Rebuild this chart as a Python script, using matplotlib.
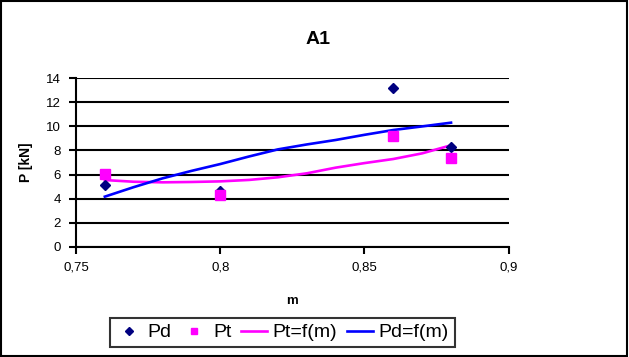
import numpy as np
import matplotlib.pyplot as plt
from matplotlib.lines import Line2D
from matplotlib.patches import Rectangle

plt.rcParams['font.family'] = ['Liberation Sans', 'DejaVu Sans']

# measured points
m_pts = [0.76, 0.80, 0.86, 0.88]
pd_vals = [5.10, 4.63, 13.17, 8.26]
pt_vals = [6.04, 4.30, 9.18, 7.40]

# trend curves
m_curve = [0.76, 0.77, 0.78, 0.79, 0.80, 0.81, 0.82, 0.83, 0.84, 0.85, 0.86, 0.87, 0.88]
pd_curve = [4.16, 4.95, 5.68, 6.30, 6.87, 7.50, 8.09, 8.50, 8.87, 9.30, 9.70, 10.00, 10.31]
pt_curve = [5.54, 5.40, 5.35, 5.38, 5.43, 5.55, 5.77, 6.10, 6.57, 6.95, 7.29, 7.76, 8.43]

xticks = [0.75, 0.80, 0.85, 0.90]
xtick_labels = ['0,75', '0,8', '0,85', '0,9']
yticks = [0, 2, 4, 6, 8, 10, 12, 14]

fig = plt.figure(figsize=(6.29, 3.57), dpi=100)
ax = fig.add_axes([0.1208, 0.309, 0.688, 0.4717])

ax.plot(m_curve, pt_curve, color='#FF00FF', lw=1.9, zorder=3)
ax.plot(m_curve, pd_curve, color='#0000FF', lw=1.9, zorder=3)
ax.plot(m_pts, pd_vals, 'D', color='#000080', ms=5, ls='none', zorder=4)
ax.plot(m_pts, pt_vals, 's', color='#FF00FF', ms=7, ls='none', zorder=4)

ax.set_xlim(0.75, 0.90)
ax.set_ylim(0, 14)
ax.set_xticks(xticks)
ax.set_xticklabels(xtick_labels)
ax.set_yticks(yticks)
ax.yaxis.grid(True, color='black', lw=1.5)
ax.set_axisbelow(True)
for s in ['top', 'right']:
    ax.spines[s].set_visible(False)
for s in ['left', 'bottom']:
    ax.spines[s].set_linewidth(1.5)
ax.tick_params(axis='both', direction='out', length=5, width=1.5, labelsize=9.5, pad=6)

ax.set_xlabel('m', fontsize=9.5, fontweight='bold', labelpad=15)
ax.set_ylabel('P [kN]', fontsize=10, fontweight='bold', labelpad=9)
fig.text(0.505, 0.89, 'A1', ha='center', va='center', fontsize=14, fontweight='bold')

handles = [
    Line2D([], [], marker='D', color='#000080', ms=4, ls='none'),
    Line2D([], [], marker='s', color='#FF00FF', ms=5, ls='none'),
    Line2D([], [], color='#FF00FF', lw=1.9),
    Line2D([], [], color='#0000FF', lw=1.9),
]
labels = ['Pd', 'Pt', 'Pt=f(m)', 'Pd=f(m)']
leg = fig.legend(handles, labels, loc='center', bbox_to_anchor=(0.449, 0.0686), ncol=4,
                 fontsize=14, frameon=True, fancybox=False, edgecolor='black',
                 handlelength=1.33, handletextpad=0.3, columnspacing=0.5,
                 borderpad=0.3, borderaxespad=0)
leg.get_frame().set_linewidth(1.5)

fig.patches.append(Rectangle((0.002, 0.003), 0.995, 0.994, transform=fig.transFigure,
                             fill=False, edgecolor='black', lw=1.5))

fig.savefig('out.png', dpi=100)
